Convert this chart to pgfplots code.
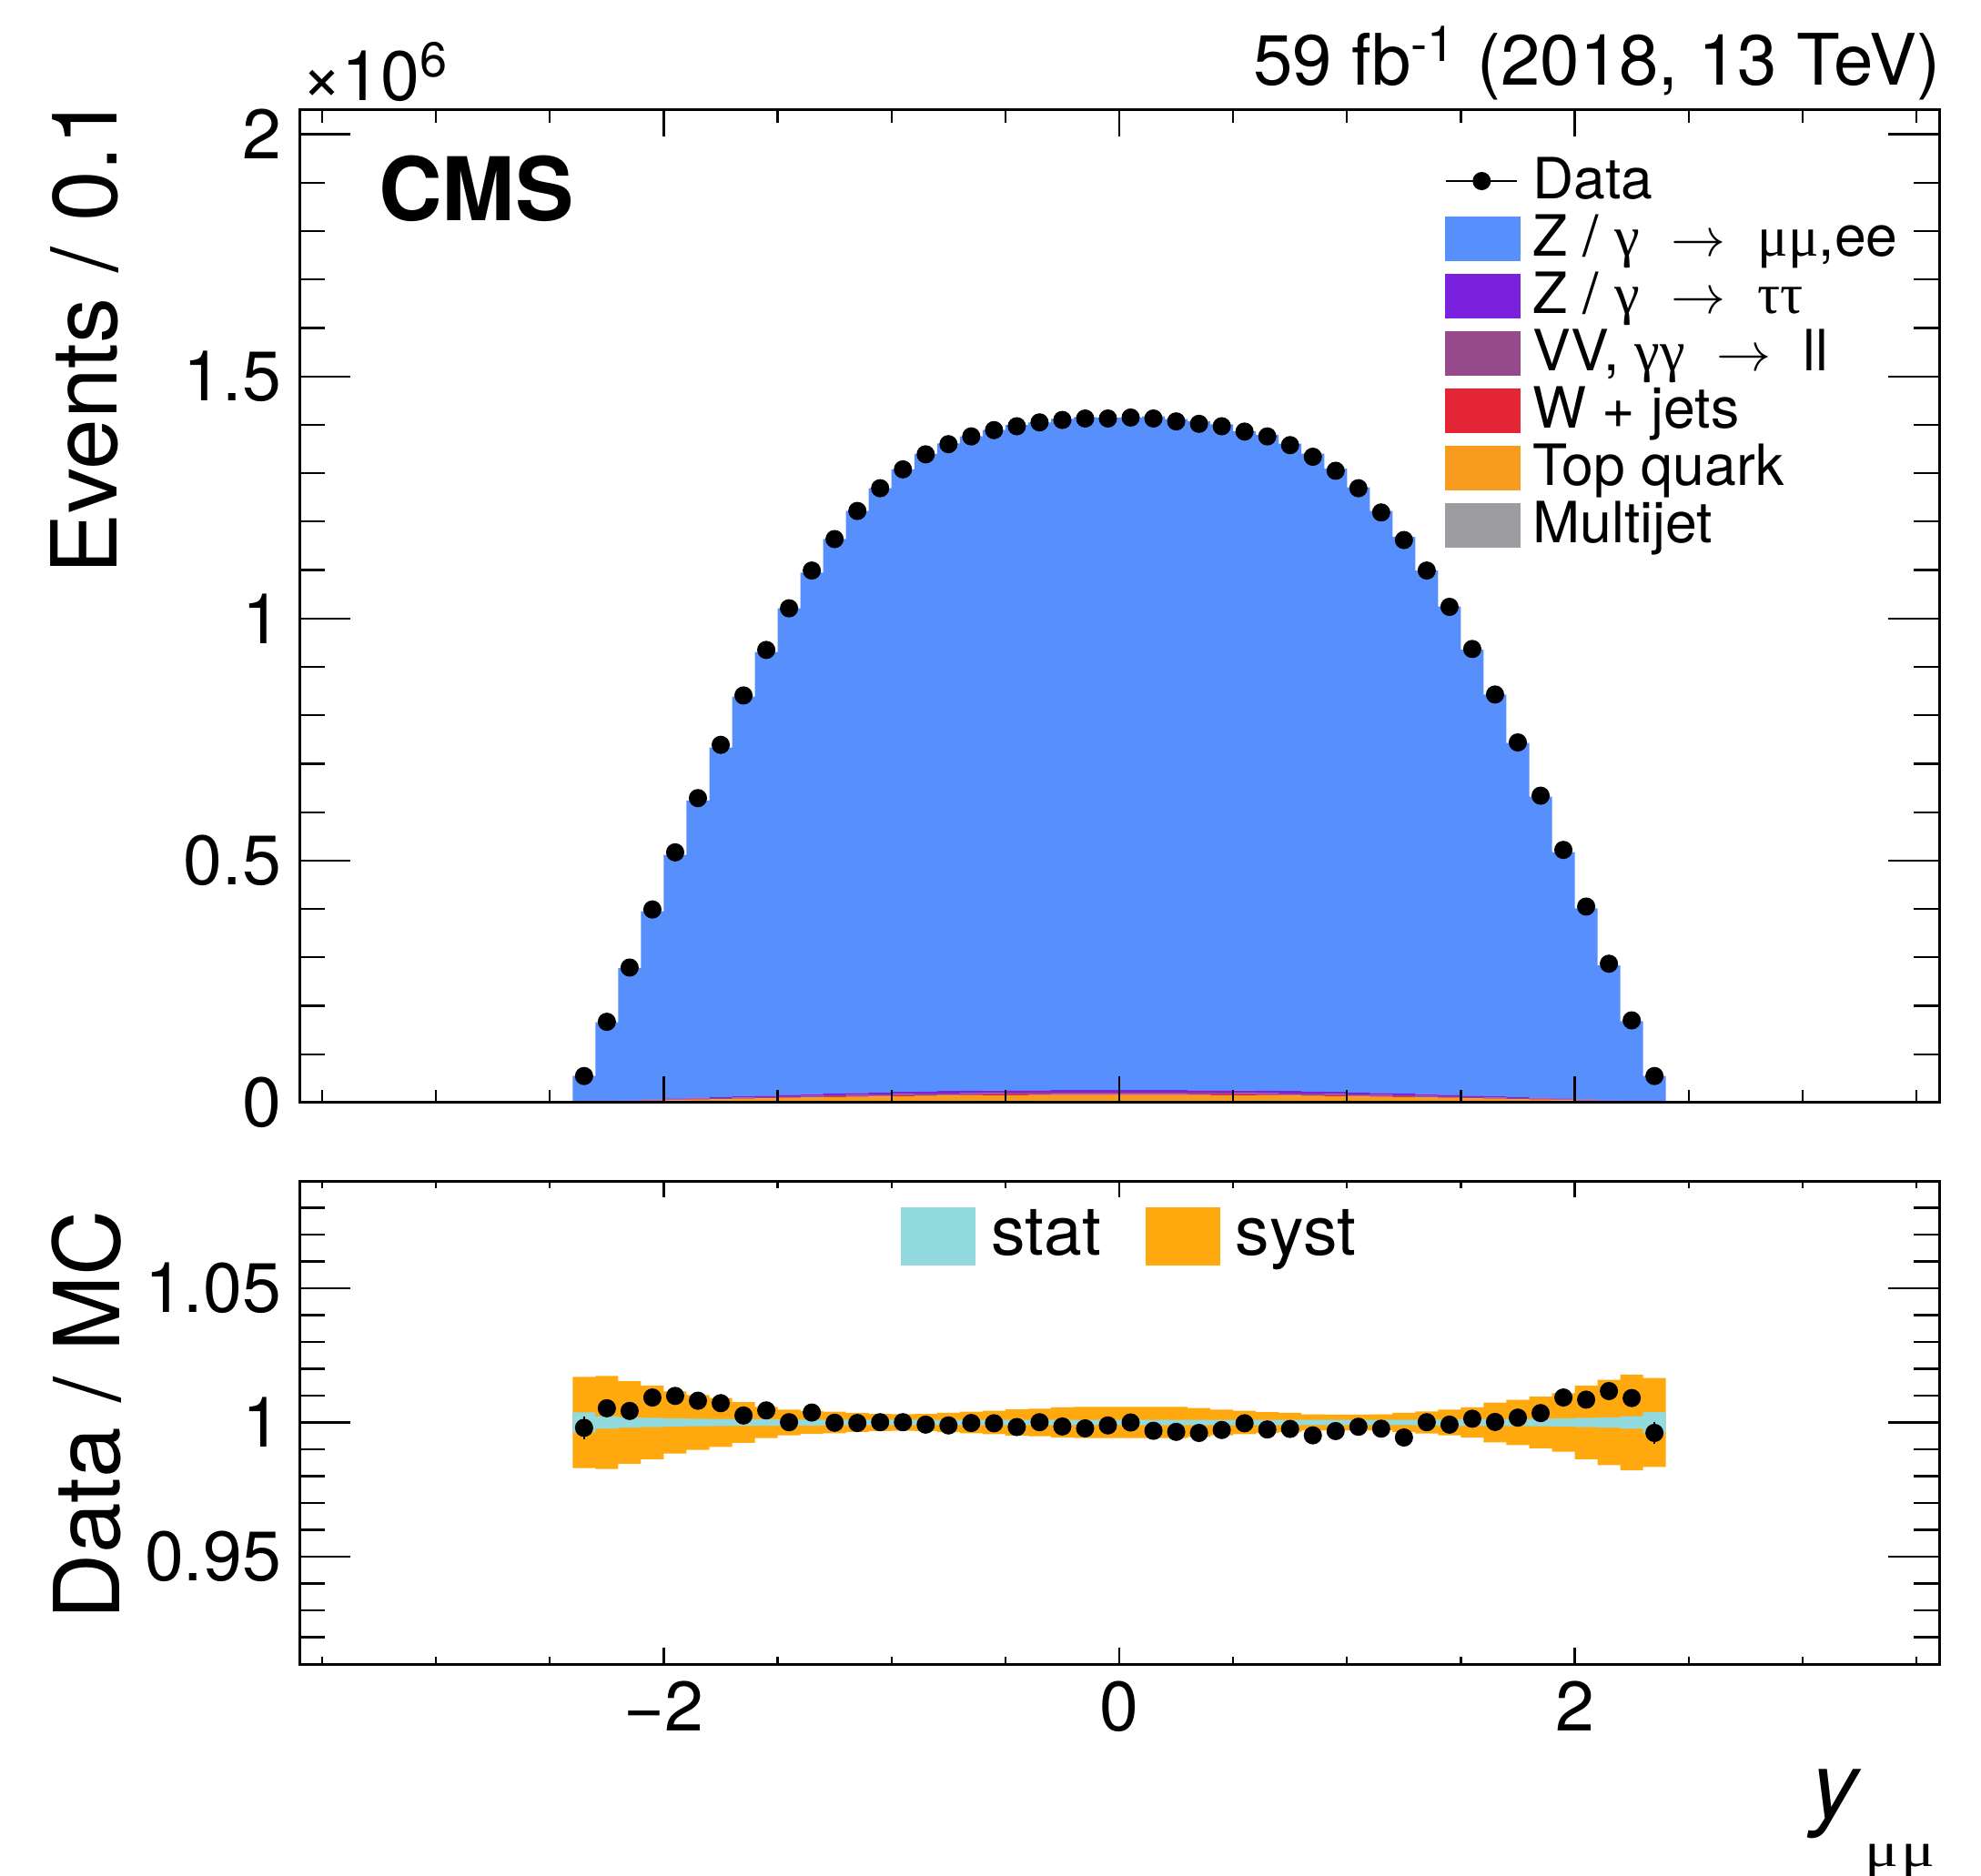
\documentclass[border=0pt]{standalone}
\usepackage{pgfplots}
\pgfplotsset{compat=1.18}
\usepackage{pgfplotstable}
\usepgfplotslibrary{fillbetween}
\usepackage{fontspec}
\setmainfont{TeX Gyre Heros}
\newfontfamily\grk{Liberation Serif}

\definecolor{cdy}{HTML}{5790FC}
\definecolor{ctt}{HTML}{7A21DD}
\definecolor{cvv}{HTML}{964A8B}
\definecolor{cwj}{HTML}{E42536}
\definecolor{ctop}{HTML}{F89C20}
\definecolor{cmj}{HTML}{9C9CA1}
\definecolor{cstat}{HTML}{92DADD}
\definecolor{csyst}{HTML}{FFA90E}

% simulated yields per 0.1 bin (units of 10^6), left bin edges; last row closes the final bin
\pgfplotstableread{
lo    mj     tp     wj     vv     tt     dy
-2.4  0.0002 0.0007 0.0001 0.0002 0.0003 0.0536
-2.3  0.0005 0.0013 0.0002 0.0004 0.0006 0.1631
-2.2  0.0007 0.0020 0.0003 0.0006 0.0009 0.2733
-2.1  0.0010 0.0029 0.0005 0.0008 0.0013 0.3888
-2.0  0.0014 0.0037 0.0006 0.0011 0.0017 0.5034
-1.9  0.0016 0.0044 0.0007 0.0013 0.0020 0.6139
-1.8  0.0018 0.0051 0.0008 0.0015 0.0023 0.7222
-1.7  0.0021 0.0057 0.0009 0.0017 0.0026 0.8258
-1.6  0.0023 0.0064 0.0010 0.0019 0.0029 0.9163
-1.5  0.0026 0.0070 0.0011 0.0021 0.0032 1.0049
-1.4  0.0028 0.0077 0.0012 0.0023 0.0035 1.0774
-1.3  0.0030 0.0084 0.0013 0.0025 0.0038 1.1451
-1.2  0.0032 0.0088 0.0014 0.0026 0.0040 1.2022
-1.1  0.0034 0.0092 0.0015 0.0027 0.0042 1.2479
-1.0  0.0036 0.0098 0.0016 0.0029 0.0043 1.2857
-0.9  0.0037 0.0101 0.0016 0.0030 0.0046 1.3171
-0.8  0.0038 0.0106 0.0017 0.0031 0.0048 1.3375
-0.7  0.0039 0.0108 0.0017 0.0032 0.0049 1.3518
-0.6  0.0040 0.0110 0.0018 0.0032 0.0050 1.3644
-0.5  0.0041 0.0112 0.0018 0.0033 0.0051 1.3739
-0.4  0.0041 0.0114 0.0018 0.0034 0.0051 1.3791
-0.3  0.0042 0.0114 0.0018 0.0034 0.0052 1.3861
-0.2  0.0042 0.0114 0.0018 0.0034 0.0052 1.3901
-0.1  0.0042 0.0114 0.0018 0.0034 0.0052 1.3886
 0.0  0.0042 0.0114 0.0018 0.0034 0.0052 1.3890
 0.1  0.0042 0.0114 0.0018 0.0034 0.0052 1.3914
 0.2  0.0042 0.0114 0.0018 0.0034 0.0052 1.3859
 0.3  0.0041 0.0114 0.0018 0.0034 0.0051 1.3817
 0.4  0.0041 0.0112 0.0018 0.0033 0.0051 1.3754
 0.5  0.0040 0.0110 0.0018 0.0032 0.0050 1.3614
 0.6  0.0039 0.0108 0.0017 0.0032 0.0049 1.3551
 0.7  0.0038 0.0106 0.0017 0.0031 0.0048 1.3373
 0.8  0.0037 0.0101 0.0016 0.0030 0.0046 1.3174
 0.9  0.0036 0.0098 0.0016 0.0029 0.0043 1.2870
 1.0  0.0034 0.0092 0.0015 0.0027 0.0042 1.2500
 1.1  0.0032 0.0088 0.0014 0.0026 0.0040 1.2018
 1.2  0.0030 0.0084 0.0013 0.0025 0.0038 1.1495
 1.3  0.0028 0.0077 0.0012 0.0023 0.0035 1.0814
 1.4  0.0026 0.0070 0.0011 0.0021 0.0032 1.0088
 1.5  0.0023 0.0064 0.0010 0.0019 0.0029 0.9212
 1.6  0.0021 0.0057 0.0009 0.0017 0.0026 0.8298
 1.7  0.0018 0.0051 0.0008 0.0015 0.0023 0.7312
 1.8  0.0016 0.0044 0.0007 0.0013 0.0020 0.6218
 1.9  0.0014 0.0037 0.0006 0.0011 0.0017 0.5087
 2.0  0.0010 0.0029 0.0005 0.0008 0.0013 0.3951
 2.1  0.0007 0.0020 0.0003 0.0006 0.0009 0.2792
 2.2  0.0005 0.0013 0.0002 0.0004 0.0006 0.1655
 2.3  0.0002 0.0007 0.0001 0.0002 0.0003 0.0537
 2.4  0.0002 0.0007 0.0001 0.0002 0.0003 0.0537
}\bins

% data (units of 10^6) and data/MC ratio with its statistical error, at bin centres
\pgfplotstableread{
c      d      r      re
-2.35  0.055  0.9980 0.0042
-2.25  0.167  1.0053 0.0024
-2.15  0.279  1.0043 0.0019
-2.05  0.399  1.0093 0.0016
-1.95  0.517  1.0099 0.0014
-1.85  0.629  1.0081 0.0013
-1.75  0.739  1.0072 0.0012
-1.65  0.841  1.0026 0.0011
-1.55  0.935  1.0045 0.0010
-1.45  1.021  1.0001 0.0010
-1.35  1.099  1.0037 0.0010
-1.25  1.164  0.9999 0.0009
-1.15  1.222  0.9998 0.0009
-1.05  1.269  1.0001 0.0009
-0.95  1.308  1.0001 0.0009
-0.85  1.339  0.9992 0.0009
-0.75  1.360  0.9989 0.0009
-0.65  1.376  0.9998 0.0009
-0.55  1.389  0.9997 0.0008
-0.45  1.397  0.9983 0.0008
-0.35  1.405  1.0001 0.0008
-0.25  1.410  0.9985 0.0008
-0.15  1.413  0.9978 0.0008
-0.05  1.413  0.9989 0.0008
 0.05  1.415  1.0000 0.0008
 0.15  1.413  0.9969 0.0008
 0.25  1.407  0.9965 0.0008
 0.35  1.402  0.9961 0.0008
 0.45  1.397  0.9972 0.0008
 0.55  1.386  0.9997 0.0008
 0.65  1.376  0.9974 0.0009
 0.75  1.358  0.9976 0.0009
 0.85  1.334  0.9952 0.0009
 0.95  1.305  0.9968 0.0009
 1.05  1.269  0.9984 0.0009
 1.15  1.219  0.9977 0.0009
 1.25  1.162  0.9944 0.0009
 1.35  1.099  1.0001 0.0010
 1.45  1.024  0.9992 0.0010
 1.55  0.937  1.0014 0.0010
 1.65  0.843  1.0002 0.0011
 1.75  0.744  1.0018 0.0012
 1.85  0.634  1.0035 0.0013
 1.95  0.522  1.0093 0.0014
 2.05  0.405  1.0085 0.0016
 2.15  0.287  1.0117 0.0019
 2.25  0.170  1.0091 0.0024
 2.35  0.055  0.9961 0.0042
}\pts

% uncertainty bands on the ratio: syst (sl,sh) and stat (tl,th), left bin edges
\pgfplotstableread{
lo    sl     sh     tl     th
-2.4  0.9830 1.0170 0.9962 1.0038
-2.3  0.9827 1.0173 0.9977 1.0023
-2.2  0.9846 1.0154 0.9981 1.0019
-2.1  0.9863 1.0137 0.9983 1.0017
-2.0  0.9884 1.0116 0.9985 1.0015
-1.9  0.9898 1.0102 0.9986 1.0014
-1.8  0.9909 1.0091 0.9987 1.0013
-1.7  0.9924 1.0076 0.9988 1.0012
-1.6  0.9942 1.0058 0.9988 1.0012
-1.5  0.9952 1.0048 0.9989 1.0011
-1.4  0.9957 1.0043 0.9989 1.0011
-1.3  0.9960 1.0040 0.9990 1.0010
-1.2  0.9965 1.0035 0.9990 1.0010
-1.1  0.9968 1.0032 0.9990 1.0010
-1.0  0.9969 1.0031 0.9990 1.0010
-0.9  0.9968 1.0032 0.9990 1.0010
-0.8  0.9964 1.0036 0.9990 1.0010
-0.7  0.9960 1.0040 0.9990 1.0010
-0.6  0.9956 1.0044 0.9990 1.0010
-0.5  0.9951 1.0049 0.9990 1.0010
-0.4  0.9949 1.0051 0.9990 1.0010
-0.3  0.9944 1.0056 0.9990 1.0010
-0.2  0.9942 1.0058 0.9990 1.0010
-0.1  0.9942 1.0058 0.9990 1.0010
 0.0  0.9942 1.0058 0.9990 1.0010
 0.1  0.9942 1.0058 0.9990 1.0010
 0.2  0.9942 1.0058 0.9990 1.0010
 0.3  0.9946 1.0054 0.9990 1.0010
 0.4  0.9952 1.0048 0.9990 1.0010
 0.5  0.9956 1.0044 0.9990 1.0010
 0.6  0.9961 1.0039 0.9990 1.0010
 0.7  0.9964 1.0036 0.9990 1.0010
 0.8  0.9970 1.0030 0.9990 1.0010
 0.9  0.9971 1.0029 0.9990 1.0010
 1.0  0.9971 1.0029 0.9990 1.0010
 1.1  0.9970 1.0030 0.9990 1.0010
 1.2  0.9964 1.0036 0.9990 1.0010
 1.3  0.9959 1.0041 0.9989 1.0011
 1.4  0.9952 1.0048 0.9989 1.0011
 1.5  0.9944 1.0056 0.9988 1.0012
 1.6  0.9926 1.0074 0.9988 1.0012
 1.7  0.9916 1.0084 0.9987 1.0013
 1.8  0.9904 1.0096 0.9986 1.0014
 1.9  0.9891 1.0109 0.9985 1.0015
 2.0  0.9863 1.0137 0.9983 1.0017
 2.1  0.9841 1.0159 0.9981 1.0019
 2.2  0.9822 1.0178 0.9977 1.0023
 2.3  0.9834 1.0166 0.9961 1.0039
 2.4  0.9834 1.0166 0.9961 1.0039
}\bands

\pgfplotsset{
  cmsframe/.style={
    scale only axis, width=360.4pt,
    xmin=-3.6, xmax=3.6,
    axis line style={line width=0.6pt, black},
    tick style={line width=0.45pt, black},
    tick align=inside, xtick pos=both, ytick pos=both,
    major tick length=11.2pt, minor tick length=5.6pt,
    xtick={-2,0,2},
    minor xtick={-3.5,-3,-2.5,-1.5,-1,-0.5,0.5,1,1.5,2.5,3,3.5},
    /pgf/number format/assume math mode=true,
    scaled y ticks=false,
    tick label style={font=\fontsize{15.4}{16}\selectfont},
    yticklabel style={anchor=east, inner sep=0pt, xshift=-3.8pt},
    xticklabel style={anchor=base, inner sep=0pt, yshift=-14.6pt},
  },
  swatchlegend/.style={
    legend style={draw=none, fill=none, inner sep=0pt, outer sep=0pt},
    legend cell align=left,
  },
}

\begin{document}
\begin{tikzpicture}

% ---------------- upper panel: stacked simulation ----------------
\begin{axis}[cmsframe,
  at={(65.8pt,169.8pt)}, anchor=south west, height=218.2pt,
  ymin=0, ymax=2.05,
  ytick={0,0.5,1,1.5,2}, yticklabels={0,0.5,1,1.5,2},
  minor ytick={0.1,0.2,0.3,0.4,0.6,0.7,0.8,0.9,1.1,1.2,1.3,1.4,1.6,1.7,1.8,1.9},
  xticklabels={},
  major x tick style={/pgfplots/major tick length=5.8pt},
  minor x tick style={/pgfplots/minor tick length=2.8pt},
  stack plots=y, const plot, axis on top]
\addplot[fill=cmj,  draw=none] table[x=lo, y=mj] {\bins} \closedcycle;
\addplot[fill=ctop, draw=none] table[x=lo, y=tp] {\bins} \closedcycle;
\addplot[fill=cwj,  draw=none] table[x=lo, y=wj] {\bins} \closedcycle;
\addplot[fill=cvv,  draw=none] table[x=lo, y=vv] {\bins} \closedcycle;
\addplot[fill=ctt,  draw=none] table[x=lo, y=tt] {\bins} \closedcycle;
\addplot[fill=cdy,  draw=none] table[x=lo, y=dy] {\bins} \closedcycle;
\end{axis}

% ---------------- upper panel: data and legend ----------------
\begin{axis}[
  at={(65.8pt,169.8pt)}, anchor=south west,
  scale only axis, width=360.4pt, height=218.2pt,
  xmin=-3.6, xmax=3.6, ymin=0, ymax=2.05,
  hide axis, swatchlegend,
  legend style={at={(0.6987,0.9523)}, anchor=north west,
    column sep=2.6pt, row sep=2.2pt,
    font=\fontsize{12.5}{12.5}\selectfont,
    nodes={inner sep=0pt, text height=9.0pt, text depth=1.4pt}}]
\addlegendimage{legend image code/.code={
  \draw[black, line width=0.5pt] (0pt,0pt) -- (15.6pt,0pt);
  \fill[black] (7.8pt,0pt) circle (1.8pt);}}
\addlegendentry{Data}
\addlegendimage{legend image code/.code={\fill[cdy] (0pt,-4.7pt) rectangle (16.2pt,4.7pt);}}
\addlegendentry{Z / {\grk γ} \;$\rightarrow$\; {\grk μμ},ee}
\addlegendimage{legend image code/.code={\fill[ctt] (0pt,-4.7pt) rectangle (16.2pt,4.7pt);}}
\addlegendentry{Z / {\grk γ} \;$\rightarrow$\; {\grk ττ}}
\addlegendimage{legend image code/.code={\fill[cvv] (0pt,-4.7pt) rectangle (16.2pt,4.7pt);}}
\addlegendentry{VV, {\grk γγ} \;$\rightarrow$\; ll}
\addlegendimage{legend image code/.code={\fill[cwj] (0pt,-4.7pt) rectangle (16.2pt,4.7pt);}}
\addlegendentry{W + jets}
\addlegendimage{legend image code/.code={\fill[ctop] (0pt,-4.7pt) rectangle (16.2pt,4.7pt);}}
\addlegendentry{Top quark}
\addlegendimage{legend image code/.code={\fill[cmj] (0pt,-4.7pt) rectangle (16.2pt,4.7pt);}}
\addlegendentry{Multijet}
\addplot[only marks, mark=*, mark size=1.8pt, black, forget plot]
  table[x=c, y=d] {\pts};
\end{axis}

% ---------------- lower panel: ratio ----------------
\begin{axis}[cmsframe,
  at={(65.8pt,46.4pt)}, anchor=south west, height=106.2pt,
  ymin=0.91, ymax=1.09,
  ytick={0.95,1,1.05}, yticklabels={0.95,1,1.05},
  minor ytick={0.91,0.92,0.93,0.94,0.96,0.97,0.98,0.99,1.01,1.02,1.03,1.04,1.06,1.07,1.08},
  xticklabels={−2,0,2},
  major x tick style={/pgfplots/major tick length=3.6pt},
  minor x tick style={/pgfplots/minor tick length=1.6pt},
  axis on top, swatchlegend, legend columns=2,
  legend style={at={(0.367,0.9463)}, anchor=north west,
    column sep=3.4pt,
    /tikz/every even column/.append style={column sep=9.8pt},
    font=\fontsize{15}{16}\selectfont,
    nodes={inner sep=0pt, text height=10.4pt, text depth=2.2pt}}]
\addlegendimage{legend image code/.code={\fill[cstat] (0pt,-6.2pt) rectangle (16pt,6.2pt);}}
\addlegendentry{stat}
\addlegendimage{legend image code/.code={\fill[csyst] (0pt,-6.2pt) rectangle (16pt,6.2pt);}}
\addlegendentry{syst}
\addplot[name path=syU, draw=none, const plot, forget plot] table[x=lo, y=sh] {\bands};
\addplot[name path=syD, draw=none, const plot, forget plot] table[x=lo, y=sl] {\bands};
\addplot[fill=csyst, draw=none, forget plot] fill between[of=syU and syD];
\addplot[name path=stU, draw=none, const plot, forget plot] table[x=lo, y=th] {\bands};
\addplot[name path=stD, draw=none, const plot, forget plot] table[x=lo, y=tl] {\bands};
\addplot[fill=cstat, draw=none, forget plot] fill between[of=stU and stD];
\addplot[only marks, mark=*, mark size=1.8pt, black, forget plot,
  error bars/.cd, y dir=both, y explicit, error mark=none,
  error bar style={line width=0.45pt, black}]
  table[x=c, y=r, y error=re] {\pts};
\end{axis}

% ---------------- titles and axis labels ----------------
\node[anchor=base east, inner sep=0pt, font=\fontsize{15.6}{18}\selectfont]
  at (426.6pt,393.4pt) {59 fb\textsuperscript{-1} (2018, 13 TeV)};
\node[anchor=base west, inner sep=0pt, font=\fontsize{15.4}{16}\selectfont]
  at (66pt,390pt) {×10\textsuperscript{6}};
\node[anchor=base west, inner sep=0pt, font=\fontsize{19.3}{20}\selectfont\bfseries]
  at (83pt,363.6pt) {CMS};
\node[rotate=90, anchor=base east, inner sep=0pt, font=\fontsize{20}{20}\selectfont]
  at (25.6pt,391.4pt) {Events / 0.1};
\node[rotate=90, anchor=base east, inner sep=0pt, font=\fontsize{20}{20}\selectfont]
  at (26.2pt,146.4pt) {Data / MC};
\node[anchor=base east, inner sep=0pt, font=\fontsize{20.5}{20}\selectfont]
  at (425.4pt,12.6pt) {\itshape y\upshape\hspace{1.5pt}\raisebox{-10.6pt}{\scalebox{1.3}[1]{\fontsize{10.6}{11}\grk μ\kern0.4pt μ}}};

\pgfresetboundingbox
\path[use as bounding box] (0pt,0pt) rectangle (435.4pt,412.2pt);
\end{tikzpicture}
\end{document}
